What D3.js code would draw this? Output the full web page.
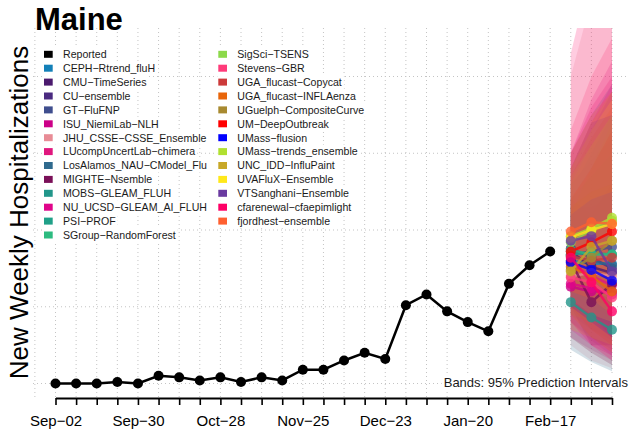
<!DOCTYPE html>
<html><head><meta charset="utf-8">
<script src="https://cdn.jsdelivr.net/npm/d3@7"></script>
<style>body{margin:0;background:#fff}svg{display:block}text{font-family:"Liberation Sans",Arial,Helvetica,sans-serif}</style>
</head><body><svg id="c" width="629" height="432"></svg>
<script>
const weeks = ["Sep-02","Sep-09","Sep-16","Sep-23","Sep-30","Oct-07","Oct-14","Oct-21","Oct-28","Nov-04","Nov-11","Nov-18","Nov-25","Dec-02","Dec-09","Dec-16","Dec-23","Dec-30","Jan-06","Jan-13","Jan-20","Jan-27","Feb-03","Feb-10","Feb-17","Feb-24","Mar-03","Mar-10"];
const tickLabels = ["Sep-02","Sep-30","Oct-28","Nov-25","Dec-23","Jan-20","Feb-17"];
const reportedWeeks = weeks.slice(0,25);
const reported = [0,0,0,1,0,5,4,2,4,1,4,2,9,9,15,20,16,51,58,47,40,34,65,77,86];
const forecastWeeks = ["Feb-24","Mar-03","Mar-10"];
const yGrid = [0,50,100,150,200];

const models = ["CEPH-Rtrend_fluH","CMU-TimeSeries","CU-ensemble","GT-FluFNP","ISU_NiemiLab-NLH","JHU_CSSE-CSSE_Ensemble","LUcompUncertLab-chimera","LosAlamos_NAU-CModel_Flu","MIGHTE-Nsemble","MOBS-GLEAM_FLUH","NU_UCSD-GLEAM_AI_FLUH","PSI-PROF","SGroup-RandomForest","SigSci-TSENS","Stevens-GBR","UGA_flucast-Copycat","UGA_flucast-INFLAenza","UGuelph-CompositeCurve","UM-DeepOutbreak","UMass-flusion","UMass-trends_ensemble","UNC_IDD-InfluPaint","UVAFluX-Ensemble","VTSanghani-Ensemble","cfarenewal-cfaepimlight","fjordhest-ensemble"];
const modelColors = ["#1380b8","#4b1a6e","#4a2a80","#3f4e8e","#cc0088","#e88c96","#e0177e","#2f6a8e","#7a1058","#22968a","#e0058a","#20a088","#2dbb80","#8cd94a","#ff3b7a","#cc3a3a","#e8650a","#a88a30","#ff0000","#0000ff","#b0e030","#c8a828","#ffe81a","#6a3aa0","#ff0066","#ff6030"];
const median = [[80,78,78],[86,76,72],[88,82,75],[84,86,89],[63,60,60],[70,72,70],[78,70,64],[83,80,77],[80,53,65],[53,43,35],[65,62,58],[84,85,84],[87,84,84],[92,100,106],[69,66,56],[83,80,82],[76,70,60],[74,82,93],[86,92,99],[79,74,67],[96,101,108],[73,89,93],[95,100,104],[93,96,73],[82,66,47],[99,105,104]];
const lower95 = [[45,35,28],[60,45,35],[55,42,30],[40,30,22],[30,22,15],[25,15,10],[40,28,18],[22,14,8],[50,25,25],[30,20,12],[35,25,18],[55,45,38],[60,50,45],[60,55,50],[30,20,12],[50,35,25],[45,30,20],[45,40,35],[60,55,50],[50,40,30],[65,60,55],[35,30,25],[55,45,40],[55,45,30],[40,25,15],[60,55,45]];
const upper95 = [[125,150,175],[115,115,120],[130,145,160],[140,165,190],[150,185,210],[200,250,280],[150,180,200],[150,175,195],[120,110,130],[85,80,75],[140,170,195],[120,135,150],[115,125,130],[130,155,175],[165,200,225],[135,160,180],[115,125,130],[110,140,170],[120,140,165],[110,120,125],[135,155,175],[140,170,190],[140,165,185],[140,170,175],[215,270,310],[150,175,190]];

const minus = s => s.replace(/-/g, "\u2212");
const svg = d3.select("#c");
const x = d3.scalePoint().domain(weeks).range([55.5, 612]);
const y = d3.scaleLinear().domain([0, 200]).range([383.5, 76.5]);
const plot = {left: 33, top: 28, right: 629, bottom: 398};

svg.append("defs").append("clipPath").attr("id","clip").append("rect")
  .attr("x", plot.left).attr("y", plot.top).attr("width", plot.right-plot.left).attr("height", plot.bottom-plot.top);

// grid
const grid = svg.append("g").attr("stroke","#c4c4c4").attr("stroke-width",1).attr("stroke-dasharray","1,3");
const vx = [x(weeks[0]) - x.step()].concat(weeks.map(w => x(w)));
grid.selectAll("line.v").data(vx).enter().append("line")
  .attr("x1", d => d).attr("x2", d => d).attr("y1", plot.top).attr("y2", plot.bottom);
grid.selectAll("line.h").data(yGrid).enter().append("line")
  .attr("x1", plot.left).attr("x2", plot.right).attr("y1", d => y(d)).attr("y2", d => y(d));

const g = svg.append("g").attr("clip-path","url(#clip)");

// bands
const area = d3.area().x((d,i) => x(forecastWeeks[i])).y0(d => y(d[0])).y1(d => y(d[1]));
models.forEach((m, k) => {
  const pts = forecastWeeks.map((w,i) => [lower95[k][i], upper95[k][i]]);
  g.append("path").attr("d", area(pts)).attr("fill", modelColors[k]).attr("fill-opacity", 0.2);
});

// reported
const line = d3.line().x(d => x(d[0])).y(d => y(d[1]));
const rep = reportedWeeks.map((w,i) => [w, reported[i]]);
g.append("path").attr("d", line(rep)).attr("fill","none").attr("stroke","#000").attr("stroke-width",2.5);
g.selectAll("circle.rep").data(rep).enter().append("circle")
  .attr("cx", d => x(d[0])).attr("cy", d => y(d[1])).attr("r", 5).attr("fill","#000");

// forecasts
models.forEach((m, k) => {
  const pts = forecastWeeks.map((w,i) => [w, median[k][i]]);
  const fg = g.append("g").attr("opacity", 0.8);
  fg.append("path").attr("d", line(pts)).attr("fill","none").attr("stroke", modelColors[k]).attr("stroke-width",2.5);
  fg.selectAll("circle").data(pts).enter().append("circle")
    .attr("cx", d => x(d[0])).attr("cy", d => y(d[1])).attr("r", 5).attr("fill", modelColors[k]);
});

// legend
const legendNames = ["Reported"].concat(models);
const legendColors = ["#000"].concat(modelColors);
const lg = svg.append("g");
legendNames.forEach((n, i) => {
  const col = i < 14 ? 0 : 1;
  const row = i < 14 ? i : i - 14;
  const sx = col === 0 ? 44 : 218.3;
  const cy = 54.3 + row * 13.9;
  const e = lg.append("g");
  const bg = e.append("rect").attr("fill","#fff");
  e.append("rect").attr("x", sx).attr("y", cy - 3.5).attr("width", 8.7).attr("height", 7).attr("fill", legendColors[i]);
  const t = e.append("text").attr("x", sx + 19).attr("y", cy + 3.8).attr("font-size", 10.6).attr("fill","#1a1a1a").text(minus(n));
  const w = t.node().getComputedTextLength();
  bg.attr("x", sx - 1).attr("y", cy - 7).attr("width", w + 22).attr("height", 14);
});

// note
const note = svg.append("g");
const nt = note.append("text").attr("x", 628).attr("y", 387).attr("text-anchor","end").attr("font-size",13).attr("fill","#1a1a1a").text("Bands: 95% Prediction Intervals");
const nb = nt.node().getBBox();
note.insert("rect","text").attr("x", nb.x - 2).attr("y", nb.y).attr("width", nb.width + 4).attr("height", nb.height).attr("fill","#fff");

// x axis
const ax = svg.append("g").attr("transform", `translate(0,${plot.bottom})`)
  .call(d3.axisBottom(x).tickSizeInner(7).tickSizeOuter(0).tickPadding(10.4)
    .tickFormat(d => tickLabels.includes(d) ? minus(d) : ""));
ax.select(".domain").attr("stroke","#000").attr("stroke-width",2);
ax.selectAll(".tick line").attr("stroke","#000").attr("stroke-width",1.6);
ax.selectAll(".tick text").attr("font-size",15).attr("fill","#000").attr("font-family",'"Liberation Sans",Arial,sans-serif');

// titles
svg.append("text").attr("x",35).attr("y",30).attr("font-size",31).attr("font-weight","bold").attr("fill","#000").text("Maine");
svg.append("text").attr("transform","translate(28,212.5) rotate(-90)").attr("text-anchor","middle").attr("font-size",26).attr("fill","#000").text("New Weekly Hospitalizations");
</script></body></html>
